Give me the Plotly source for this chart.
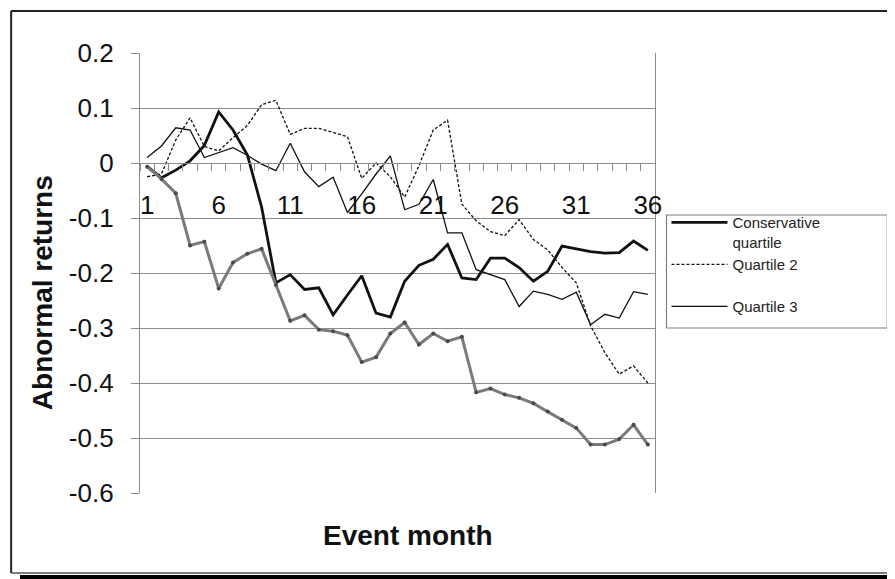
import plotly.graph_objects as go

months = list(range(1, 37))

conservative = [-0.006, -0.027, -0.013, 0.004, 0.032, 0.093, 0.060, 0.015, -0.080, -0.218,
                -0.203, -0.230, -0.227, -0.276, -0.240, -0.205, -0.273, -0.280, -0.215, -0.186,
                -0.175, -0.148, -0.209, -0.212, -0.173, -0.173, -0.190, -0.215, -0.197, -0.151,
                -0.156, -0.161, -0.164, -0.163, -0.142, -0.159]

quartile2 = [-0.025, -0.020, 0.042, 0.082, 0.030, 0.022, 0.046, 0.068, 0.106, 0.114,
             0.052, 0.063, 0.063, 0.055, 0.048, -0.028, 0.000, -0.025, -0.062, -0.005,
             0.060, 0.078, -0.075, -0.105, -0.125, -0.132, -0.103, -0.139, -0.158, -0.190,
             -0.218, -0.296, -0.345, -0.384, -0.369, -0.400]

quartile3 = [0.010, 0.031, 0.064, 0.060, 0.010, 0.019, 0.028, 0.014, -0.002, -0.014,
             0.036, -0.016, -0.043, -0.026, -0.090, -0.056, -0.020, 0.013, -0.085, -0.075,
             -0.030, -0.127, -0.127, -0.194, -0.203, -0.212, -0.261, -0.233, -0.239, -0.248,
             -0.235, -0.294, -0.275, -0.282, -0.234, -0.239]

quartile4 = [-0.007, -0.029, -0.055, -0.150, -0.143, -0.228, -0.181, -0.165, -0.156, -0.222,
             -0.287, -0.277, -0.303, -0.306, -0.313, -0.362, -0.353, -0.310, -0.290, -0.330,
             -0.310, -0.324, -0.316, -0.417, -0.410, -0.421, -0.427, -0.437, -0.452, -0.467,
             -0.482, -0.512, -0.512, -0.502, -0.476, -0.512]

month_labels = [str(m) for m in months]
x_tick_text = [str(m) if (m - 1) % 5 == 0 else "" for m in months]
y_tick_vals = [-0.6, -0.5, -0.4, -0.3, -0.2, -0.1, 0, 0.1, 0.2]
y_tick_labels = ["-0.6", "-0.5", "-0.4", "-0.3", "-0.2", "-0.1", "0", "0.1", "0.2"]

Y_MIN, Y_MAX = -0.6, 0.2
zero_frac = (0 - Y_MIN) / (Y_MAX - Y_MIN)   # where the category axis crosses (value 0)

FONT = "Liberation Sans, Arial, sans-serif"
GRID = "#8c8c8c"

fig = go.Figure()
fig.add_trace(go.Scatter(x=month_labels, y=conservative, mode="lines",
                         name="Conservative<br>quartile",
                         line=dict(color="#111111", width=2.8)))
fig.add_trace(go.Scatter(x=month_labels, y=quartile2, mode="lines",
                         name="Quartile 2<br> ",
                         line=dict(color="#111111", width=1.3, dash="3px,2px")))
fig.add_trace(go.Scatter(x=month_labels, y=quartile3, mode="lines",
                         name="Quartile 3<br> ",
                         line=dict(color="#111111", width=1.3)))
fig.add_trace(go.Scatter(x=month_labels, y=quartile4, mode="lines+markers",
                         name="Quartile 4", showlegend=False,
                         line=dict(color="#7a7a7a", width=3),
                         marker=dict(color="#4a4a4a", size=4)))
# empty helper trace so the category axis (anchored at value 0) has its own subplot
fig.add_trace(go.Scatter(x=month_labels, y=[None] * len(months), yaxis="y2", mode="lines",
                         showlegend=False, hoverinfo="skip", line=dict(width=0)))

# outer chart frame
fig.add_shape(type="line", xref="paper", yref="paper", x0=-0.2502, x1=1.4607, y0=1.0955, y1=1.0955,
              line=dict(color="#222222", width=2))
fig.add_shape(type="line", xref="paper", yref="paper", x0=-0.2502, x1=-0.2502, y0=-0.1818, y1=1.0955,
              line=dict(color="#222222", width=2))
fig.add_shape(type="line", xref="paper", yref="paper", x0=1.4607, x1=1.4607, y0=-0.1818, y1=1.0955,
              line=dict(color="#8a8a8a", width=2))
fig.add_shape(type="line", xref="paper", yref="paper", x0=-0.2502, x1=1.4607, y0=-0.1818, y1=-0.1818,
              line=dict(color="#555555", width=1.5))
fig.add_shape(type="line", xref="paper", yref="paper", x0=-0.233, x1=1.48, y0=-0.1920, y1=-0.1920,
              line=dict(color="#000000", width=5))
# legend box
fig.add_shape(type="rect", xref="paper", yref="paper", x0=1.0223, x1=1.451, y0=0.375, y1=0.6318,
              line=dict(color="#808080", width=1.2), fillcolor="rgba(0,0,0,0)")

fig.add_annotation(text="Event month", xref="paper", yref="paper", x=0.52, y=-0.0955,
                   showarrow=False, xanchor="center", yanchor="middle",
                   font=dict(family=FONT, size=28, color="#111111", weight="bold"))
fig.add_annotation(text="Abnormal returns", xref="paper", yref="paper", x=-0.190, y=0.4545,
                   textangle=-90, showarrow=False, xanchor="center", yanchor="middle",
                   font=dict(family=FONT, size=28, color="#111111", weight="bold"))

fig.update_layout(
    width=887, height=571,
    margin=dict(l=132, r=239.5, t=45, b=86),
    paper_bgcolor="white", plot_bgcolor="rgba(0,0,0,0)",
    font=dict(family=FONT, color="#111111"),
    showlegend=True,
    legend=dict(x=1.0223, y=0.652, xanchor="left", yanchor="top",
                borderwidth=0, bgcolor="rgba(0,0,0,0)",
                font=dict(family=FONT, size=15, color="#222222"),
                valign="top", itemwidth=56, tracegroupgap=0),
    xaxis=dict(type="category", range=[-0.5, 35.5], anchor="y2",
               tickmode="array", tickvals=month_labels, ticktext=x_tick_text, tickangle=0,
               tickson="boundaries", ticks="outside", ticklen=7, tickcolor=GRID, tickwidth=1.3,
               showgrid=False, zeroline=False,
               showline=True, linecolor=GRID, linewidth=1.3,
               ticklabelstandoff=19,
               tickfont=dict(family=FONT, size=26, color="#111111")),
    yaxis=dict(range=[Y_MIN, Y_MAX], domain=[0, 1], anchor="x",
               tickmode="array", tickvals=y_tick_vals, ticktext=y_tick_labels,
               showgrid=True, gridcolor=GRID, gridwidth=1.3, zeroline=False,
               showline=True, mirror=True, linecolor=GRID, linewidth=1.3,
               ticks="outside", ticklen=8, tickcolor=GRID, tickwidth=1.3,
               ticklabelstandoff=12,
               tickfont=dict(family=FONT, size=26, color="#111111")),
    yaxis2=dict(domain=[zero_frac, 1], range=[0, Y_MAX], anchor="x",
                showgrid=False, zeroline=False, showline=False, ticks="",
                showticklabels=False),
)

fig.write_html("out.html")
